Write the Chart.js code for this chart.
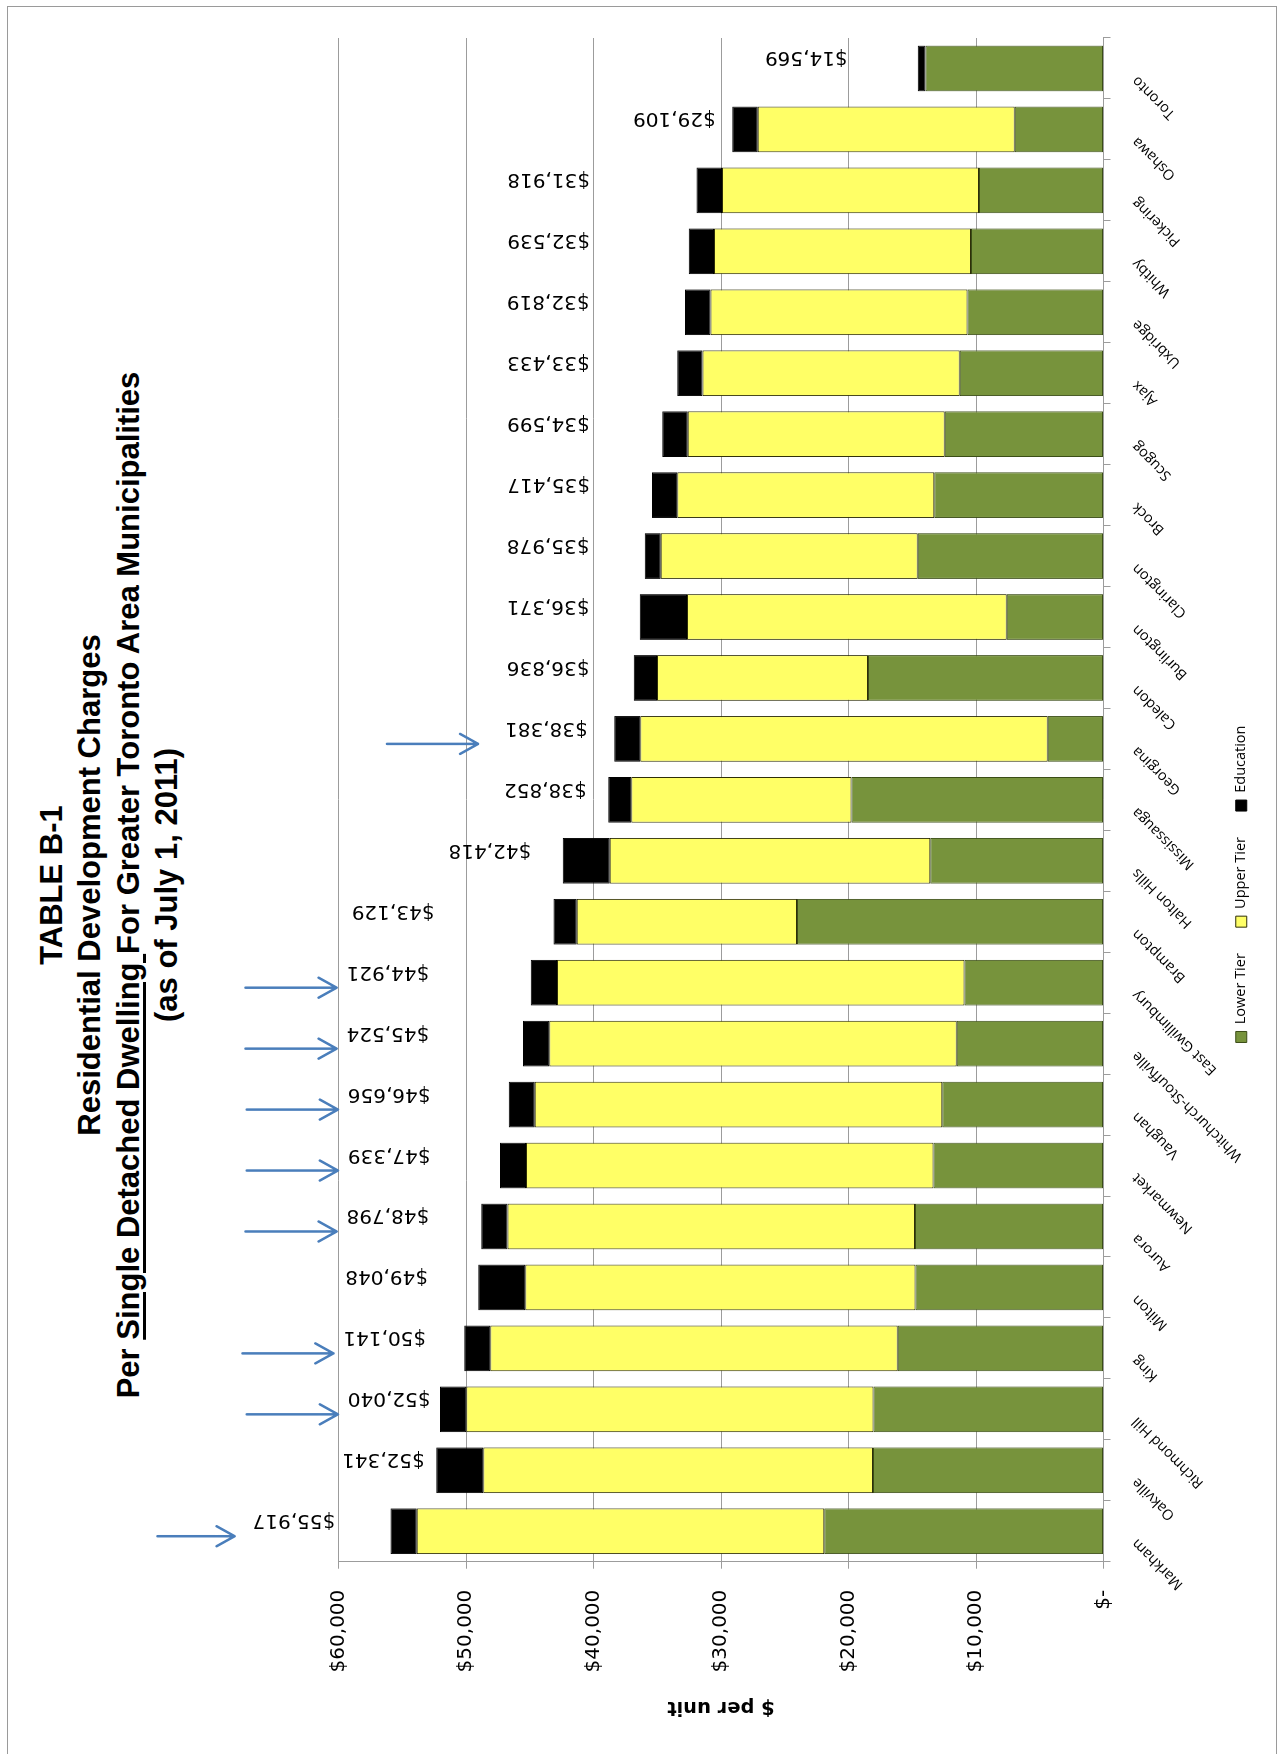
<!DOCTYPE html>
<html>
<head>
<meta charset="utf-8">
<script src="https://cdn.jsdelivr.net/npm/chart.js@4.4.0/dist/chart.umd.min.js"></script>
<style>
  html, body { margin: 0; padding: 0; background: #fff; width: 1282px; height: 1754px; overflow: hidden; }
  #frame { position: absolute; left: 7px; top: 6px; width: 1270px; height: 1800px; border: 1px solid #9a9a9a; box-sizing: border-box; }
  /* the chart is laid out landscape and turned a quarter-turn onto the portrait page */
  #sheet { position: absolute; left: 0; top: 0; width: 1754px; height: 1282px;
           transform-origin: 0 0; transform: translateY(1754px) rotate(-90deg); }
  #title { position: absolute; left: 269px; top: 33px; width: 1200px; text-align: center;
           font: bold 31px "Liberation Sans", Arial, sans-serif; line-height: 38.3px; color: #000; }
  #title u { text-decoration-thickness: 2.5px; text-underline-offset: 4px; }
  #chart { position: absolute; left: 0; top: 0; }
</style>
</head>
<body>
<div id="frame"></div>
<div id="sheet">
  <div id="title">TABLE B-1<br>Residential Development Charges<br>Per <u>Single Detached Dwelling </u>For Greater Toronto Area Municipalities<br>(as of July 1, 2011)</div>
  <canvas id="chart" width="1754" height="1282"></canvas>
</div>
<script>
// Municipalities, highest total charge first
const municipalities = [
  'Markham', 'Oakville', 'Richmond Hill', 'King', 'Milton', 'Aurora', 'Newmarket',
  'Vaughan', 'Whitchurch-Stouffville', 'East Gwillimbury', 'Brampton', 'Halton Hills',
  'Mississauga', 'Georgina', 'Caledon', 'Burlington', 'Clarington', 'Brock', 'Scugog',
  'Ajax', 'Uxbridge', 'Whitby', 'Pickering', 'Oshawa', 'Toronto'
];

// Charge components, $ per single detached unit
const lowerTier = [
  21907, 18081, 18030, 16131, 14748, 14788, 13329,
  12646, 11514, 10911, 24039, 13598,
  19762, 4371, 18466, 7591, 14560, 13268, 12450,
  11284, 10670, 10390, 9769, 6960, 13960
];
const upperTier = [
  31960, 30560, 31960, 31960, 30600, 31960, 31960,
  31960, 31960, 31960, 17280, 25120,
  17280, 31960, 16560, 25080, 20160, 20160, 20160,
  20160, 20160, 20160, 20160, 20160, 0
];
const education = [
  2050, 3700, 2050, 2050, 3700, 2050, 2050,
  2050, 2050, 2050, 1810, 3700,
  1810, 2050, 1810, 3700, 1258, 1989, 1989,
  1989, 1989, 1989, 1989, 1989, 609
];

const valueTickLabels = ['$-', '$10,000', '$20,000', '$30,000', '$40,000', '$50,000', '$60,000'];

// Municipalities flagged with an arrow
const flagged = [
  'Markham', 'Richmond Hill', 'King', 'Aurora', 'Newmarket', 'Vaughan',
  'Whitchurch-Stouffville', 'East Gwillimbury', 'Georgina'
];

// Where each total label begins along the value axis (labels are set in columns)
const labelColumns = {
  'Markham': 60250, 'Oakville': 53230, 'Richmond Hill': 52780, 'King': 53130, 'Milton': 52980,
  'Aurora': 52880, 'Newmarket': 52780, 'Vaughan': 52780, 'Whitchurch-Stouffville': 52880,
  'East Gwillimbury': 52880, 'Brampton': 52480, 'Halton Hills': 44880, 'Mississauga': 40530,
  'Georgina': 40450, 'Caledon': 40320, 'Burlington': 40320, 'Clarington': 40320, 'Brock': 40280,
  'Scugog': 40300, 'Ajax': 40300, 'Uxbridge': 40320, 'Whitby': 40280, 'Pickering': 40280,
  'Oshawa': 30420, 'Toronto': 20070
};

// Arrow geometry: gap before the label and shaft length, in pixels
const arrowStyle = {
  standard: { gap: 10, length: 91 },
  Markham: { gap: 18, length: 77 },
  Georgina: { gap: 27, length: 91 }
};

// Draws the stacked totals as rotated labels, plus the call-out arrows
const totalsPlugin = {
  id: 'totals',
  beforeDraw(chart) {
    // let the slanted category names run past the axis box
    chart.scales.x._computeLabelArea = () => undefined;
  },
  afterDatasetsDraw(chart, args, opts) {
    const { ctx, scales: { x, y } } = chart;
    ctx.save();
    ctx.font = '20px "DejaVu Sans"';
    ctx.fillStyle = '#000';
    ctx.textAlign = 'left';
    ctx.textBaseline = 'alphabetic';
    municipalities.forEach((name, i) => {
      const total = lowerTier[i] + upperTier[i] + education[i];
      const text = '$' + total.toLocaleString('en-US');
      const cx = x.getPixelForValue(i);
      const start = y.getPixelForValue(opts.columns[name]);
      ctx.save();
      ctx.translate(cx + 16, start);
      ctx.rotate(-Math.PI / 2);
      ctx.fillText(text, 0, 0);
      ctx.restore();
      if (opts.arrows.includes(name)) {
        const st = opts.arrowStyle[name] || opts.arrowStyle.standard;
        const w = ctx.measureText(text).width;
        const tip = start - w - st.gap;
        const tail = tip - st.length;
        const ax = cx - 5;
        ctx.save();
        ctx.strokeStyle = '#4a7ebb';
        ctx.lineWidth = 2.5;
        ctx.lineCap = 'round';
        ctx.lineJoin = 'round';
        ctx.beginPath();
        ctx.moveTo(ax, tail);
        ctx.lineTo(ax, tip);
        ctx.moveTo(ax - 10, tip - 18);
        ctx.lineTo(ax, tip);
        ctx.lineTo(ax + 10, tip - 18);
        ctx.stroke();
        ctx.restore();
      }
    });
    ctx.restore();
  }
};

const gridGrey = '#9c9c9c';

new Chart(document.getElementById('chart'), {
  type: 'bar',
  data: {
    labels: municipalities,
    datasets: [
      { label: 'Lower Tier', data: lowerTier, backgroundColor: '#77933c', borderColor: '#3b4d17', borderWidth: 1, borderSkipped: false },
      { label: 'Upper Tier', data: upperTier, backgroundColor: '#ffff66', borderColor: '#2e2e08', borderWidth: 1, borderSkipped: false },
      { label: 'Education', data: education, backgroundColor: '#000000', borderColor: '#000000', borderWidth: 1, borderSkipped: false }
    ]
  },
  options: {
    responsive: false,
    animation: false,
    devicePixelRatio: 1,
    layout: { padding: { left: 24, right: 38, top: 338.5, bottom: 23.5 } },
    datasets: { bar: { barPercentage: 0.75, categoryPercentage: 1 } },
    plugins: {
      legend: {
        position: 'bottom',
        labels: {
          font: { family: 'Open Sans', size: 14.5 },
          color: '#000',
          boxWidth: 11,
          boxHeight: 11,
          padding: 26
        }
      },
      tooltip: { enabled: false },
      totals: { columns: labelColumns, arrows: flagged, arrowStyle: arrowStyle }
    },
    scales: {
      x: {
        stacked: true,
        offset: true,
        grid: { offset: true, drawOnChartArea: false, color: gridGrey, tickLength: 7 },
        border: { color: gridGrey },
        ticks: {
          minRotation: 45, maxRotation: 45, autoSkip: false,
          font: { family: 'Open Sans', size: 14.5 }, color: '#000',
          padding: 18, labelOffset: -10
        },
        afterFit(scale) { scale.height = 104.5; }
      },
      y: {
        stacked: true,
        min: 0,
        max: 60000,
        ticks: {
          stepSize: 10000,
          callback: (v) => valueTickLabels[Math.round(v / 10000)],
          font: { family: 'DejaVu Sans', size: 20 },
          color: '#000',
          padding: 21
        },
        grid: { color: gridGrey, tickLength: 7 },
        border: { color: gridGrey },
        title: {
          display: true,
          text: '$ per unit',
          font: { family: 'DejaVu Sans', size: 19.5, weight: 'bold' },
          color: '#000',
          padding: { top: 11, bottom: 0 }
        },
        afterFit(scale) { scale.width = 168.3; }
      }
    }
  },
  plugins: [totalsPlugin]
});
</script>
</body>
</html>
